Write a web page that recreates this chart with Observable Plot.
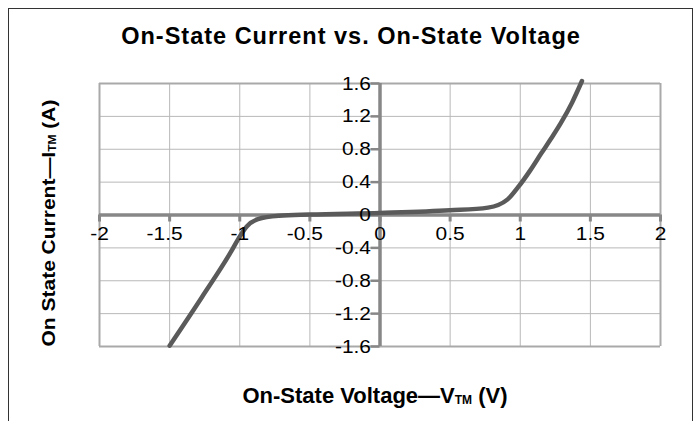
<!DOCTYPE html>
<html>
<head>
<meta charset="utf-8">
<script src="https://cdn.jsdelivr.net/npm/d3@7"></script>
<script src="https://cdn.jsdelivr.net/npm/@observablehq/plot@0.6"></script>
<style>
  html, body { margin: 0; padding: 0; background: #fff; }
  #wrap { position: relative; width: 695px; height: 421px; overflow: hidden; font-family: "Liberation Sans", Arial, Helvetica, sans-serif; color: #000; }
  #border { position: absolute; left: 8px; top: 8px; width: 685px; height: 440px; border: 1px solid #333; box-sizing: border-box; }
  #title { position: absolute; left: 0; top: 25px; width: 702px; text-align: center; font-weight: bold; font-size: 23.5px; letter-spacing: 1px; line-height: 22px; white-space: nowrap; }
  #xlabel { position: absolute; left: 0; top: 385px; width: 750px; text-align: center; font-weight: bold; font-size: 22px; line-height: 22px; white-space: nowrap; }
  #xlabel .sub { font-size: 12px; position: relative; top: 1px; }
  #chart { position: absolute; left: 0; top: 60px; }
</style>
</head>
<body>
<div id="wrap">
  <div id="border"></div>
  <div id="title">On-State Current vs. On-State Voltage</div>
  <div id="chart"></div>
  <div id="xlabel">On-State Voltage—V<span class="sub">TM</span> (V)</div>
</div>
<script>
// Data
const voltage = [-1.50, -1.27, -1.06, -1.01, -0.95, -0.87, -0.72, -0.5, 0, 0.5, 0.77, 0.91, 0.99, 1.07, 1.15, 1.22, 1.29, 1.37, 1.44];
const current = [-1.59, -1.0, -0.44, -0.29, -0.14, -0.05, -0.01, 0.005, 0.025, 0.057, 0.09, 0.19, 0.35, 0.54, 0.75, 0.93, 1.12, 1.37, 1.63];

const xTicks = [-2, -1.5, -1, -0.5, 0, 0.5, 1, 1.5, 2];
const xTickLabels = ["-2", "-1.5", "-1", "-0.5", "0", "0.5", "1", "1.5", "2"];
const yTicks = [-1.6, -1.2, -0.8, -0.4, 0, 0.4, 0.8, 1.2, 1.6];
const yTickLabels = ["-1.6", "-1.2", "-0.8", "-0.4", "0", "0.4", "0.8", "1.2", "1.6"];

const curveData = voltage.map((v, i) => ({v, c: current[i]}));
const xLab = xTicks.map((t, i) => ({t, label: xTickLabels[i]}));
const yLab = yTicks.map((t, i) => ({t, label: yTickLabels[i]}));
const isNegDecimal = d => d.label.startsWith("-") && d.label.includes(".");

const axisColor = "#878787";
const gridColor = "#b8b8b8";
const font = '"Liberation Sans", Arial, Helvetica, sans-serif';

const chart = Plot.plot({
  width: 695,
  height: 310,
  marginLeft: 99,
  marginRight: 35,
  marginTop: 23,
  marginBottom: 24,
  style: {fontFamily: font, background: "transparent", overflow: "visible"},
  x: {domain: [-2, 2], axis: null},
  y: {domain: [-1.6, 1.6], axis: null},
  marks: [
    Plot.ruleX(xTicks, {x: d => d, stroke: gridColor, strokeWidth: 1}),
    Plot.ruleY(yTicks, {y: d => d, stroke: gridColor, strokeWidth: 1}),
    Plot.ruleX([-2, 2], {x: d => d, stroke: "#a9a9a9", strokeWidth: 2}),
    Plot.ruleY([-1.6, 1.6], {y: d => d, stroke: "#a9a9a9", strokeWidth: 2}),
    Plot.ruleX([0], {x: d => d, stroke: axisColor, strokeWidth: 3.5}),
    Plot.ruleY([0], {y: d => d, stroke: axisColor, strokeWidth: 3.5}),
    Plot.ruleX(xTicks, {x: d => d, y1: 0, y2: 0, insetTop: 0, insetBottom: -7, stroke: axisColor, strokeWidth: 3}),
    Plot.ruleY(yTicks, {y: d => d, x1: 0, x2: 0, insetLeft: -9, insetRight: 0, stroke: axisColor, strokeWidth: 2.5}),
    Plot.line(curveData, {x: "v", y: "c", curve: "monotone-x", stroke: "#5a5a5a", strokeWidth: 4.5, strokeLinecap: "round", strokeLinejoin: "round"}),
    Plot.text(xLab.filter(d => !isNegDecimal(d)), {x: "t", y: () => 0, text: "label", lineAnchor: "top", dy: 12, fontSize: 19, fill: "#000"}),
    Plot.text(xLab.filter(isNegDecimal), {x: "t", y: () => 0, text: "label", lineAnchor: "top", dy: 12, dx: -5, fontSize: 19, fill: "#000"}),
    Plot.text(yLab, {x: () => 0, y: "t", text: "label", textAnchor: "end", lineAnchor: "middle", dx: -9, fontSize: 19, fill: "#000"})
  ]
});

document.getElementById("chart").appendChild(chart);

// Widen tick label glyphs horizontally like the reference (scale about each label's anchor)
const xSet = new Set(xTickLabels), ySet = new Set(yTickLabels);
const sx = 1.1;
d3.select(chart).selectAll("text").each(function() {
  const s = this.textContent;
  if (!xSet.has(s) && !ySet.has(s)) return;
  const anchor = this.getAttribute("text-anchor") || getComputedStyle(this).textAnchor;
  const isEnd = anchor === "end";
  const b = this.getBBox();
  const ax = isEnd ? b.x + b.width : b.x + b.width / 2;
  const t = this.getAttribute("transform") || "";
  this.setAttribute("transform", `${t} translate(${ax},0) scale(${sx},1) translate(${-ax},0)`);
});

// Rotated y-axis title with subscript
const yl = d3.select(chart).append("text")
  .attr("transform", "translate(55,163) rotate(-90) scale(1,0.85)")
  .attr("text-anchor", "middle")
  .attr("font-family", font)
  .attr("font-weight", "bold")
  .attr("font-size", 21)
  .attr("fill", "#000");
yl.append("tspan").text("On State Current—I");
yl.append("tspan").attr("font-size", 12).attr("dy", 1).text("TM");
yl.append("tspan").attr("dy", -1).text(" (A)");
</script>
</body>
</html>
